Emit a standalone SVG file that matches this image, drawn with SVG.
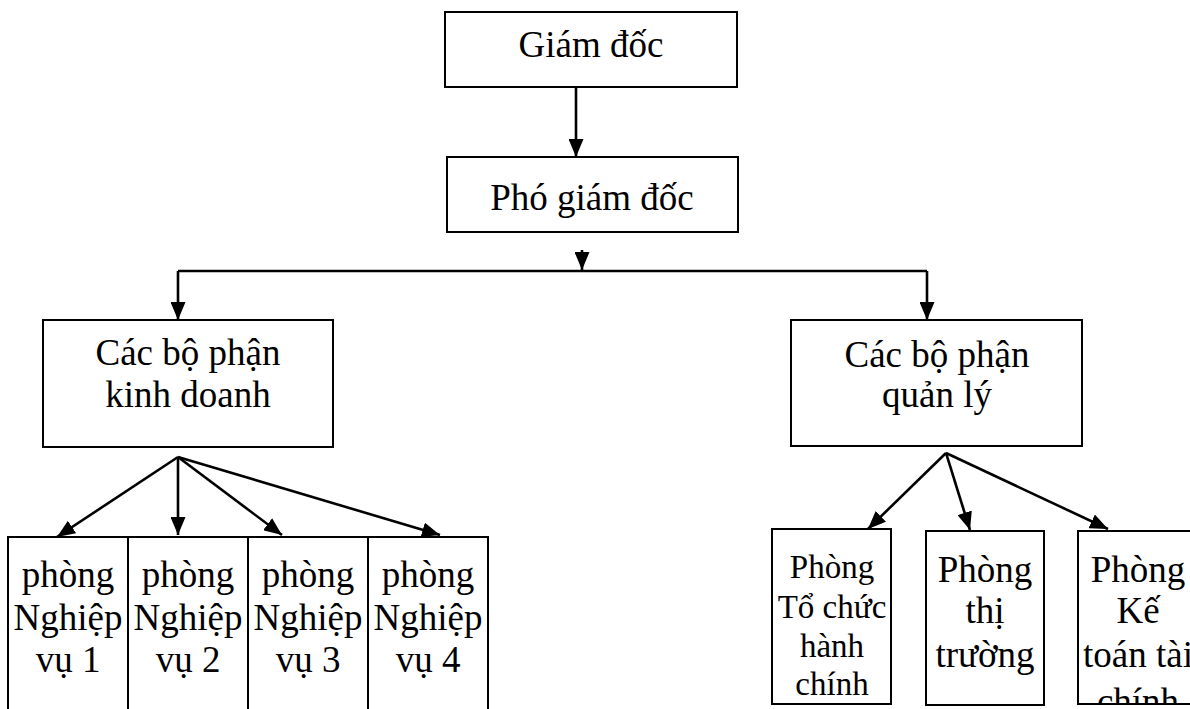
<svg xmlns="http://www.w3.org/2000/svg" width="1190" height="709" viewBox="0 0 1190 709">
<style>
.box{fill:#fff;stroke:#000;stroke-width:2}
.t{font-family:"Liberation Serif","Times New Roman",serif;font-size:37px;fill:#000;text-anchor:middle}
.ts{font-size:33px}
.c{fill:none;stroke:#000;stroke-width:2.6}
</style>
<defs>
<marker id="ah" viewBox="0 0 18 15" refX="18" refY="7.5" markerWidth="18" markerHeight="15" markerUnits="userSpaceOnUse" orient="auto">
<path d="M0,0 L18,7.5 L0,15 z" fill="#000"/>
</marker>
<clipPath id="clip3"><rect x="1078" y="531" width="130" height="173"/></clipPath>
</defs>
<rect width="1190" height="709" fill="#fff"/>
<g id="giam-doc">
<rect class="box" x="445" y="12" width="292" height="75"/>
<text class="t" x="591" y="57">Giám đốc</text>
</g>
<g id="pho-giam-doc">
<rect class="box" x="447" y="157" width="291" height="75"/>
<text class="t" x="592" y="210">Phó giám đốc</text>
</g>
<g id="kinh-doanh">
<rect class="box" x="43" y="320" width="290" height="127"/>
<text class="t" x="188" y="365">Các bộ phận</text>
<text class="t" x="188" y="407">kinh doanh</text>
</g>
<g id="quan-ly">
<rect class="box" x="791" y="320" width="291" height="126"/>
<text class="t" x="937" y="367">Các bộ phận</text>
<text class="t" x="937" y="407">quản lý</text>
</g>
<g id="nv1">
<rect class="box" x="8" y="537" width="120" height="200"/>
<text class="t" x="68" y="587">phòng</text>
<text class="t" x="68" y="630">Nghiệp</text>
<text class="t" x="68" y="672">vụ 1</text>
</g>
<g id="nv2">
<rect class="box" x="128" y="537" width="120" height="200"/>
<text class="t" x="188" y="587">phòng</text>
<text class="t" x="188" y="630">Nghiệp</text>
<text class="t" x="188" y="672">vụ 2</text>
</g>
<g id="nv3">
<rect class="box" x="248" y="537" width="120" height="200"/>
<text class="t" x="308" y="587">phòng</text>
<text class="t" x="308" y="630">Nghiệp</text>
<text class="t" x="308" y="672">vụ 3</text>
</g>
<g id="nv4">
<rect class="box" x="368" y="537" width="120" height="200"/>
<text class="t" x="428" y="587">phòng</text>
<text class="t" x="428" y="630">Nghiệp</text>
<text class="t" x="428" y="672">vụ 4</text>
</g>
<g id="to-chuc">
<rect class="box" x="772" y="529" width="119" height="175"/>
<text class="t ts" x="832" y="578">Phòng</text>
<text class="t ts" x="832" y="618">Tổ chức</text>
<text class="t ts" x="832" y="657">hành</text>
<text class="t ts" x="832" y="695">chính</text>
</g>
<g id="thi-truong">
<rect class="box" x="926" y="531" width="118" height="174"/>
<text class="t" x="985" y="582">Phòng</text>
<text class="t" x="985" y="623">thị</text>
<text class="t" x="985" y="667">trường</text>
</g>
<g id="ke-toan">
<rect class="box" x="1078" y="531" width="120" height="173"/>
<g clip-path="url(#clip3)">
<text class="t" x="1138" y="582">Phòng</text>
<text class="t" x="1138" y="623">Kế</text>
<text class="t" x="1138" y="667">toán tài</text>
<text class="t" x="1138" y="714">chính</text>
</g>
</g>
<g id="connectors">
<line class="c" x1="576" y1="87" x2="576" y2="157" marker-end="url(#ah)"/>
<line class="c" x1="582" y1="250" x2="582" y2="270" marker-end="url(#ah)"/>
<line class="c" x1="178" y1="271" x2="927" y2="271"/>
<polyline class="c" points="178,271 178,320" marker-end="url(#ah)"/>
<polyline class="c" points="927,271 927,320" marker-end="url(#ah)"/>
<line class="c" x1="178" y1="457" x2="57" y2="537" marker-end="url(#ah)"/>
<line class="c" x1="178" y1="457" x2="178" y2="535" marker-end="url(#ah)"/>
<line class="c" x1="178" y1="457" x2="282" y2="535" marker-end="url(#ah)"/>
<line class="c" x1="178" y1="457" x2="440" y2="535" marker-end="url(#ah)"/>
<line class="c" x1="946" y1="453" x2="868" y2="529" marker-end="url(#ah)"/>
<line class="c" x1="946" y1="453" x2="970" y2="530" marker-end="url(#ah)"/>
<line class="c" x1="946" y1="453" x2="1108" y2="529" marker-end="url(#ah)"/>
</g>
</svg>
